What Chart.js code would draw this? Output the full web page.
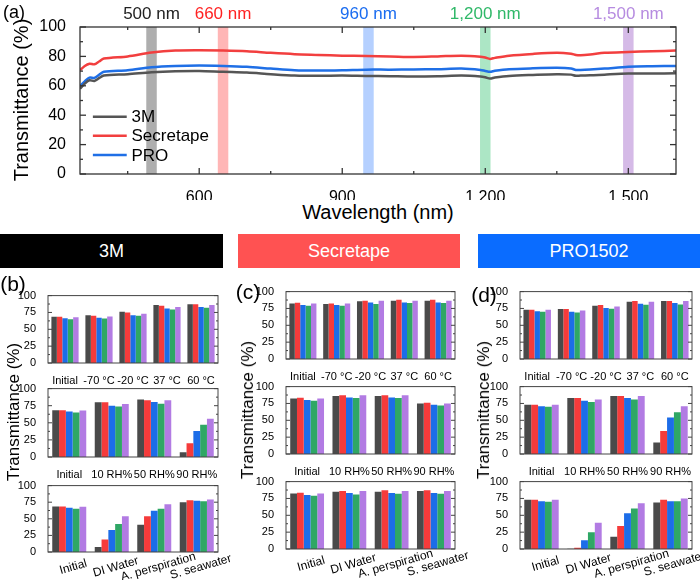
<!DOCTYPE html>
<html>
<head>
<meta charset="utf-8">
<script src="https://cdn.jsdelivr.net/npm/chart.js@4.4.0/dist/chart.umd.min.js"></script>
<style>
  body { margin:0; width:700px; height:580px; position:relative; background:#fff; overflow:hidden;
         font-family:"Liberation Sans", Arial, sans-serif; }
  canvas { position:absolute; }
  .txt { position:absolute; white-space:nowrap; color:#000; transform:translate(-50%,-50%); }
  .rot { transform:translate(-50%,-50%) rotate(-90deg); }
  .hdr { position:absolute; top:234px; height:34px; line-height:34px; text-align:center; color:#fff; font-size:18px; }
</style>
</head>
<body>
<canvas id="cA"></canvas>
<canvas id="b1"></canvas><canvas id="b2"></canvas><canvas id="b3"></canvas>
<canvas id="c1"></canvas><canvas id="c2"></canvas><canvas id="c3"></canvas>
<canvas id="d1"></canvas><canvas id="d2"></canvas><canvas id="d3"></canvas>

<div class="txt" style="left:14px;top:12px;font-size:18px">(a)</div>
<div class="txt rot" style="left:21px;top:100px;font-size:20px">Transmittance (%)</div>
<div class="txt" style="left:378px;top:212px;font-size:20px">Wavelength (nm)</div>

<div class="hdr" style="left:0;width:223px;background:#000">3M</div>
<div class="hdr" style="left:238px;width:222px;background:#ff5252">Secretape</div>
<div class="hdr" style="left:478px;width:222px;background:#0a6cff">PRO1502</div>

<div class="txt" style="left:13px;top:284px;font-size:21px">(b)</div>
<div class="txt" style="left:248px;top:292px;font-size:21px">(c)</div>
<div class="txt" style="left:484px;top:295px;font-size:21px">(d)</div>
<div class="txt rot" style="left:14px;top:412px;font-size:17px">Transmittance (%)</div>
<div class="txt rot" style="left:248px;top:410px;font-size:17px">Transmittance (%)</div>
<div class="txt rot" style="left:484px;top:410px;font-size:17px">Transmittance (%)</div>

<script>
// ---- (a) spectra ----
const wavelength = [350,360,370,380,390,400,450,500,550,600,650,700,750,800,850,900,950,1000,1050,1100,
                    1150,1190,1200,1210,1220,1250,1300,1350,1380,1390,1400,1420,1450,1500,1550,1600];
const spec3M = [58,61.5,63.8,63.3,65.2,67,67.9,69.2,69.9,70.1,69.5,69,67.9,67,66.8,67,66.7,66.5,66.3,66.5,
                67,66.4,65.8,64.9,65.6,66.7,67.4,67.9,67.6,66.8,67,67.1,67.6,68.3,68.4,68.5];
const specSecretape = [70.6,73.5,75,74.6,76.5,78.5,80,82.6,84,84.2,84,83.5,82.4,81.5,81,80.5,80.3,80,79.6,80,
                       80.5,79.8,79.2,78.3,79,80.5,81.7,82.4,81.8,81,80.8,81.3,82.4,83,83.5,84];
const specPRO = [59.7,63,65.6,65.4,67.5,69.5,70.6,72.6,73.5,73.8,73.5,72.9,71.7,70.6,70.4,70.6,71,71,71.1,71.3,
                 71.7,70.8,70.1,69.5,70.2,71.3,71.9,72.2,71.8,70.8,70.8,71.1,71.7,72.9,73.3,73.5];
const specNames = ['3M', 'Secretape', 'PRO'];
const xMajor = [600, 900, 1200, 1500];
const xMinor = [450, 750, 1050, 1350];
const yMajorA = [0, 20, 40, 60, 80, 100];
const yMinorA = [10, 30, 50, 70, 90];

const bandCenters = [500, 650, 955, 1200, 1500];
const bandLabels = ['500 nm', '660 nm', '960 nm', '1,200 nm', '1,500 nm'];
const bandWidth = 22;

// ---- (b)-(d) bars: one row per wavelength (500, 660, 960, 1200, 1500 nm) ----
const wlNames = ['500 nm', '660 nm', '960 nm', '1,200 nm', '1,500 nm'];
const tempLabels = ['Initial', '-70 °C', '-20 °C', '37 °C', '60 °C'];
const humLabels = ['Initial', '10 RH%', '50 RH%', '90 RH%'];
const liqLabels = ['Initial', 'DI Water', 'A. perspiration', 'S. seawater'];

const m3Temp = [[68.5,71,76,86,87],[68.5,70,75,85,87],[66.5,67,71,81,83],[65,66,70,79.5,82],[68,69,73,83,86]];
const m3Hum  = [[68.5,80,84,7],[68.5,80,83,20],[66.5,75,80.5,38],[65,74,78,47],[68,77.5,83,56]];
const m3Liq  = [[68.5,7.5,41,75],[68.5,19,54,78],[66.5,33,62,77],[65,42,65,76.5],[68,54,72,79]];

const secTemp = [[82.5,81.5,85.5,86.5,86.5],[83.5,82.5,86.5,88,88],[80,80,84,84,84],[79,79,81.5,83,83],[82.5,82.5,86.5,86.5,86.5]];
const secHum  = [[82.5,86,86,75],[83.5,87,87,76],[80,84,84,73],[79,83,83,72],[82.5,87,87,75]];
const secLiq  = [[82.5,85,85,86],[83.5,86,87,87],[80,83,83,83],[79,81,82,82],[82.5,86,86,86]];

const proTemp = [[73,74,79,85,86],[73,74,80,86,86],[71,70,75.5,82,83],[70,69,74.5,80.5,81],[73,72,78,85,86]];
const proHum  = [[73,83,86,17],[73,83,86,34],[71,79,83,54],[70,77,81,62],[73,81,86,71]];
const proLiq  = [[73,0.5,18,69],[73,2,34,73],[71,13,53,71],[70,25,60,71],[73,39,68,75]];

const lineColors = ['#555555', '#f23f3f', '#1f6fe6'];
const barColors = ['#4a4a4a', '#f53b3b', '#1c6de8', '#2fa765', '#b27be3'];
const bandColors = ['rgba(120,120,120,0.6)', 'rgba(255,110,110,0.5)', 'rgba(120,170,255,0.55)',
                    'rgba(90,205,140,0.5)', 'rgba(185,140,215,0.6)'];
const bandTextColors = ['#222', '#f22', '#1a6cf0', '#2fb868', '#b68be0'];
const FONT = '"Liberation Sans", Arial, sans-serif';

// place a canvas so the plot area lands on the given rectangle
function placeCanvas(el, L, T, R, B, axisW, axisH, padT, padR) {
  const w = R - L + axisW + padR, h = B - T + padT + axisH;
  el.width = w; el.height = h;
  el.style.left = (L - axisW) + 'px'; el.style.top = (T - padT) + 'px';
  el.style.width = w + 'px'; el.style.height = h + 'px';
}

// frame with inward ticks on all sides
const framePlugin = {
  id: 'frame',
  afterDraw(chart, args, o) {
    const { ctx, chartArea: a, scales } = chart;
    ctx.save();
    ctx.strokeStyle = o.color || '#333';
    ctx.lineWidth = o.lw || 1;
    const seg = (x1, y1, x2, y2) => { ctx.beginPath(); ctx.moveTo(x1, y1); ctx.lineTo(x2, y2); ctx.stroke(); };
    (o.yMajor || []).forEach(v => { const p = scales.y.getPixelForValue(v); seg(a.left, p, a.left + o.len, p); seg(a.right - o.len, p, a.right, p); });
    (o.yMinor || []).forEach(v => { const p = scales.y.getPixelForValue(v); seg(a.left, p, a.left + o.len / 2, p); seg(a.right - o.len / 2, p, a.right, p); });
    (o.xMajor || []).forEach(v => { const p = scales.x.getPixelForValue(v); seg(p, a.bottom, p, a.bottom - o.len); seg(p, a.top, p, a.top + o.len); });
    (o.xMinor || []).forEach(v => { const p = scales.x.getPixelForValue(v); seg(p, a.bottom, p, a.bottom - o.len / 2); seg(p, a.top, p, a.top + o.len / 2); });
    ctx.strokeRect(a.left, a.top, a.right - a.left, a.bottom - a.top);
    ctx.restore();
  }
};

// ---- (a) ----
const bandPlugin = {
  id: 'bands',
  beforeDatasetsDraw(chart) {
    const { ctx, chartArea: a, scales: { x } } = chart;
    ctx.save();
    bandCenters.forEach((c, i) => {
      const x1 = x.getPixelForValue(c - bandWidth / 2), x2 = x.getPixelForValue(c + bandWidth / 2);
      ctx.fillStyle = bandColors[i];
      ctx.fillRect(x1, a.top, x2 - x1, a.bottom - a.top);
    });
    ctx.restore();
  },
  afterDraw(chart) {
    const { ctx, chartArea: a, scales: { x, y } } = chart;
    ctx.save();
    ctx.font = '17px ' + FONT;
    ctx.textAlign = 'center'; ctx.textBaseline = 'middle';
    bandCenters.forEach((c, i) => {
      ctx.fillStyle = bandTextColors[i];
      ctx.fillText(bandLabels[i], x.getPixelForValue(c), a.top - 13);
    });
    // legend inside the plot
    const legY = [39, 26, 13];
    ctx.textAlign = 'left';
    specNames.forEach((n, i) => {
      const py = y.getPixelForValue(legY[i]);
      ctx.strokeStyle = lineColors[i]; ctx.lineWidth = 2.5;
      ctx.beginPath(); ctx.moveTo(x.getPixelForValue(377), py); ctx.lineTo(x.getPixelForValue(448), py); ctx.stroke();
      ctx.fillStyle = '#000';
      ctx.fillText(n, x.getPixelForValue(458), py + 1);
    });
    ctx.restore();
  }
};

const cA = document.getElementById('cA');
placeCanvas(cA, 80, 27, 676, 174, 80, 26, 27, 24);
new Chart(cA, {
  type: 'line',
  data: {
    datasets: [spec3M, specSecretape, specPRO].map((s, i) => ({
      label: specNames[i],
      data: wavelength.map((w, k) => ({ x: w, y: s[k] })),
      borderColor: lineColors[i], borderWidth: 2.5, pointRadius: 0, tension: 0.3, fill: false
    }))
  },
  options: {
    responsive: false, animation: false,
    layout: { padding: { top: 27, right: 24, left: 0, bottom: 0 } },
    plugins: { legend: { display: false }, tooltip: { enabled: false },
      frame: { yMajor: yMajorA, yMinor: yMinorA, xMajor: xMajor, xMinor: xMinor, len: 6, lw: 1.3, color: '#333' } },
    scales: {
      x: { type: 'linear', min: 350, max: 1600,
        afterBuildTicks: s => { s.ticks = xMajor.map(v => ({ value: v })); },
        afterFit: s => { s.height = 26; },
        grid: { display: false }, border: { display: false },
        ticks: { font: { size: 16, family: FONT }, color: '#000', padding: 6,
          callback: v => v.toLocaleString('en-US') } },
      y: { min: 0, max: 100,
        afterFit: s => { s.width = 80; },
        grid: { display: false }, border: { display: false },
        ticks: { stepSize: 20, font: { size: 16, family: FONT }, color: '#000', padding: 6 } }
    }
  },
  plugins: [bandPlugin, framePlugin]
});

// ---- bars ----
const rotLabelPlugin = {
  id: 'rotLabels',
  afterDraw(chart, args, o) {
    if (!o.on) return;
    const { ctx, chartArea: a, scales: { x } } = chart;
    ctx.save();
    ctx.font = '12px ' + FONT; ctx.fillStyle = '#000';
    ctx.textAlign = 'center'; ctx.textBaseline = 'middle';
    chart.data.labels.forEach((lab, i) => {
      ctx.save();
      ctx.translate(x.getPixelForValue(i) + 4, a.bottom + 15);
      ctx.rotate(-16 * Math.PI / 180);
      ctx.fillText(lab, 0, 0);
      ctx.restore();
    });
    ctx.restore();
  }
};

function barChart(id, L, T, R, B, labels, series, rotated) {
  const el = document.getElementById(id);
  const axisH = rotated ? 31 : 22;
  const padR = rotated ? 30 : 4;
  placeCanvas(el, L, T, R, B, 30, axisH, 6, padR);
  new Chart(el, {
    type: 'bar',
    data: {
      labels: labels,
      datasets: series.map((s, i) => ({ label: wlNames[i], data: s, backgroundColor: barColors[i],
        borderWidth: 0, barPercentage: 1, categoryPercentage: 0.8 }))
    },
    options: {
      responsive: false, animation: false,
      layout: { padding: { top: 6, right: padR, left: 0, bottom: 0 } },
      plugins: { legend: { display: false }, tooltip: { enabled: false },
        frame: { yMajor: [0, 25, 50, 75, 100], yMinor: [12.5, 37.5, 62.5, 87.5], len: 4, lw: 1, color: '#444' },
        rotLabels: { on: rotated } },
      scales: {
        x: { afterFit: s => { s.height = axisH; },
          grid: { display: false }, border: { display: false },
          ticks: { display: !rotated, font: { size: 11, family: FONT }, color: '#000', padding: 3, maxRotation: 0, autoSkip: false } },
        y: { min: 0, max: 100,
          afterFit: s => { s.width = 30; },
          grid: { display: false }, border: { display: false },
          ticks: { stepSize: 25, font: { size: 11, family: FONT }, color: '#000', padding: 4 } }
      }
    },
    plugins: [framePlugin, rotLabelPlugin]
  });
}

barChart('b1', 48, 291, 218, 363, tempLabels, m3Temp, false);
barChart('b2', 48, 384, 218, 457, humLabels, m3Hum, false);
barChart('b3', 48, 481, 218, 552, liqLabels, m3Liq, true);

barChart('c1', 286, 287, 455, 359, tempLabels, secTemp, false);
barChart('c2', 286, 382, 455, 454, humLabels, secHum, false);
barChart('c3', 286, 477, 455, 549, liqLabels, secLiq, true);

barChart('d1', 520, 287, 692, 359, tempLabels, proTemp, false);
barChart('d2', 520, 382, 692, 454, humLabels, proHum, false);
barChart('d3', 520, 477, 692, 549, liqLabels, proLiq, true);
</script>
</body>
</html>
